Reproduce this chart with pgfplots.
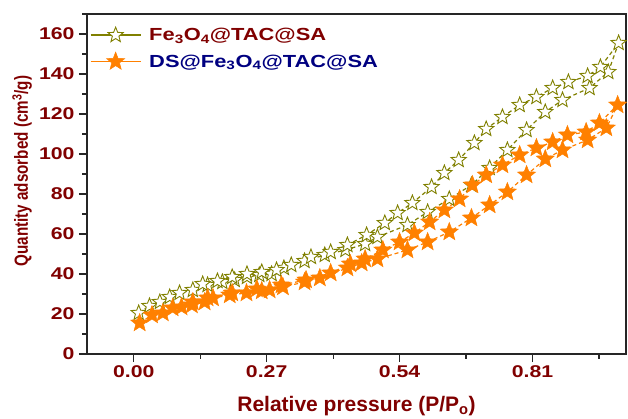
\documentclass[border=0pt]{standalone}
\usepackage{pgfplots}
\pgfplotsset{compat=1.18}
\usepackage{fontspec}
\setmainfont{Liberation Sans}
\newfontfamily\widefont{Liberation Sans}[FakeStretch=1.25]
\newfontfamily\narrowfont{Liberation Sans}[FakeStretch=0.8]
\definecolor{olivec}{RGB}{128,128,0}
\definecolor{orangec}{RGB}{255,128,0}
\definecolor{dred}{RGB}{128,0,0}
\definecolor{navyc}{RGB}{0,0,128}
\pgfdeclareplotmark{fstar}{%
  \pgfpathmoveto{\pgfpointpolar{90}{\pgfplotmarksize}}%
  \pgfpathlineto{\pgfpointpolar{126}{0.43\pgfplotmarksize}}%
  \pgfpathlineto{\pgfpointpolar{162}{\pgfplotmarksize}}%
  \pgfpathlineto{\pgfpointpolar{198}{0.43\pgfplotmarksize}}%
  \pgfpathlineto{\pgfpointpolar{234}{\pgfplotmarksize}}%
  \pgfpathlineto{\pgfpointpolar{270}{0.43\pgfplotmarksize}}%
  \pgfpathlineto{\pgfpointpolar{306}{\pgfplotmarksize}}%
  \pgfpathlineto{\pgfpointpolar{342}{0.43\pgfplotmarksize}}%
  \pgfpathlineto{\pgfpointpolar{18}{\pgfplotmarksize}}%
  \pgfpathlineto{\pgfpointpolar{54}{0.43\pgfplotmarksize}}%
  \pgfpathclose
  \pgfusepathqfillstroke
}
\begin{document}
\begin{tikzpicture}
\begin{axis}[
  scale only axis, width=539pt, height=340pt,
  at={(0pt,0pt)}, anchor=south west,
  xmin=-0.095, xmax=1.0, ymin=0, ymax=170,
  axis line style={black!85, line width=1.6pt},
  xtick pos=bottom, ytick pos=left,
  xtick align=outside, ytick align=outside,
  major tick length=8pt, minor tick length=4.5pt,
  major tick style={black!85, line width=1.4pt},
  minor tick style={black!85, line width=1.2pt},
  xtick={0,0.27,0.54,0.81},
  xticklabels={0.00,0.27,0.54,0.81},
  minor xtick={0.135,0.405,0.675,0.945},
  ytick={0,20,...,160},
  minor ytick={10,30,...,170},
  /pgf/number format/assume math mode=true,
  tick label style={font=\widefont\bfseries\fontsize{17}{20}\selectfont, text=dred},
  xticklabel style={anchor=base, yshift=-15pt},
  yticklabel style={anchor=east, xshift=-1pt},
  xlabel={Relative pressure (P/P\textsubscript{o})},
  ylabel={Quantity adsorbed (cm\textsuperscript{3}/g)},
  xlabel style={font=\bfseries\fontsize{21}{24}\selectfont, text=dred, at={(axis description cs:0.5,-0.168)}, anchor=base},
  ylabel style={font=\narrowfont\bfseries\fontsize{19}{22}\selectfont, text=dred, at={(axis description cs:-0.1095,0.538)}, anchor=base},
  legend style={at={(axis description cs:0.005,0.962)}, anchor=north west, draw=none, fill=none,
    font=\widefont\bfseries\fontsize{17.5}{20}\selectfont, row sep=9pt, inner sep=0pt,
    nodes={inner sep=1pt}},
  legend cell align=left,
  legend image code/.code={\draw[mark repeat=2,mark phase=2,solid,line width=1.5pt] plot coordinates {(0pt,0pt) (25pt,0pt) (50pt,0pt)}; \path (57pt,0pt);},
  clip=false,
]
\addplot[olivec, dash pattern=on 4pt off 3pt, line width=1.2pt, mark=fstar, mark size=8pt,
  mark options={solid, fill=white, draw=olivec, line width=0.9pt}] coordinates {
(0.010,20.5) (0.032,24) (0.053,26) (0.073,28.5) (0.093,30.5) (0.120,32) (0.150,34.5)
(0.180,36) (0.205,37) (0.230,38.5) (0.255,39.5) (0.280,40) (0.305,43) (0.347,46.5)
(0.388,49.5) (0.430,52) (0.470,55) (0.495,58.5) (0.556,64.5) (0.597,71) (0.641,77.5)
(0.686,84.5) (0.723,93) (0.759,102) (0.798,112) (0.836,121) (0.871,127) (0.926,133)
(0.964,141) (0.985,155.5)
(0.948,143.5) (0.922,139) (0.883,136) (0.851,133) (0.818,128.5) (0.784,124.5)
(0.749,118.5) (0.716,112.5) (0.692,105.5) (0.660,97) (0.631,90.5) (0.605,83.5)
(0.566,75.5) (0.536,70.5) (0.510,65.5) (0.473,59.5) (0.434,54.5) (0.400,51)
(0.360,48.5) (0.320,44.5) (0.290,42) (0.260,41) (0.230,40) (0.200,38.5)
(0.170,36.5) (0.140,35)
};
\addlegendentry{\color{dred}Fe\textsubscript{3}O\textsubscript{4}@TAC@SA}
\addplot[orangec, dash pattern=on 4pt off 3pt, line width=1.2pt, mark=fstar, mark size=9.5pt,
  mark options={solid, fill=orangec, draw=orangec, line width=0.5pt}] coordinates {
(0.012,15.5) (0.037,19.5) (0.059,20.5) (0.079,23) (0.097,23.5) (0.118,24.5) (0.144,26)
(0.161,28) (0.195,29.5) (0.229,30.5) (0.260,31.5) (0.276,32) (0.303,33.5) (0.347,36)
(0.378,38) (0.434,43) (0.463,45.5) (0.495,47.5) (0.556,52) (0.597,56) (0.641,61)
(0.686,68) (0.723,74.5) (0.759,81) (0.798,89.5) (0.836,97.5) (0.871,102) (0.922,107)
(0.960,113) (0.983,124.5)
(0.946,115.5) (0.919,111) (0.881,109.5) (0.851,106) (0.818,103) (0.784,99.5)
(0.749,94.5) (0.716,89.5) (0.688,84.5) (0.662,77.5) (0.631,72) (0.601,66)
(0.570,60.5) (0.540,56) (0.506,52) (0.470,47.5) (0.440,45) (0.400,40.5)
(0.350,37) (0.300,34.5) (0.250,32.5) (0.200,30.5) (0.150,28) (0.120,26)
};
\addlegendentry{\color{navyc}DS@Fe\textsubscript{3}O\textsubscript{4}@TAC@SA}
\end{axis}
\path[use as bounding box] (-87pt,-60pt) rectangle (541pt,354pt);
\end{tikzpicture}
\end{document}
